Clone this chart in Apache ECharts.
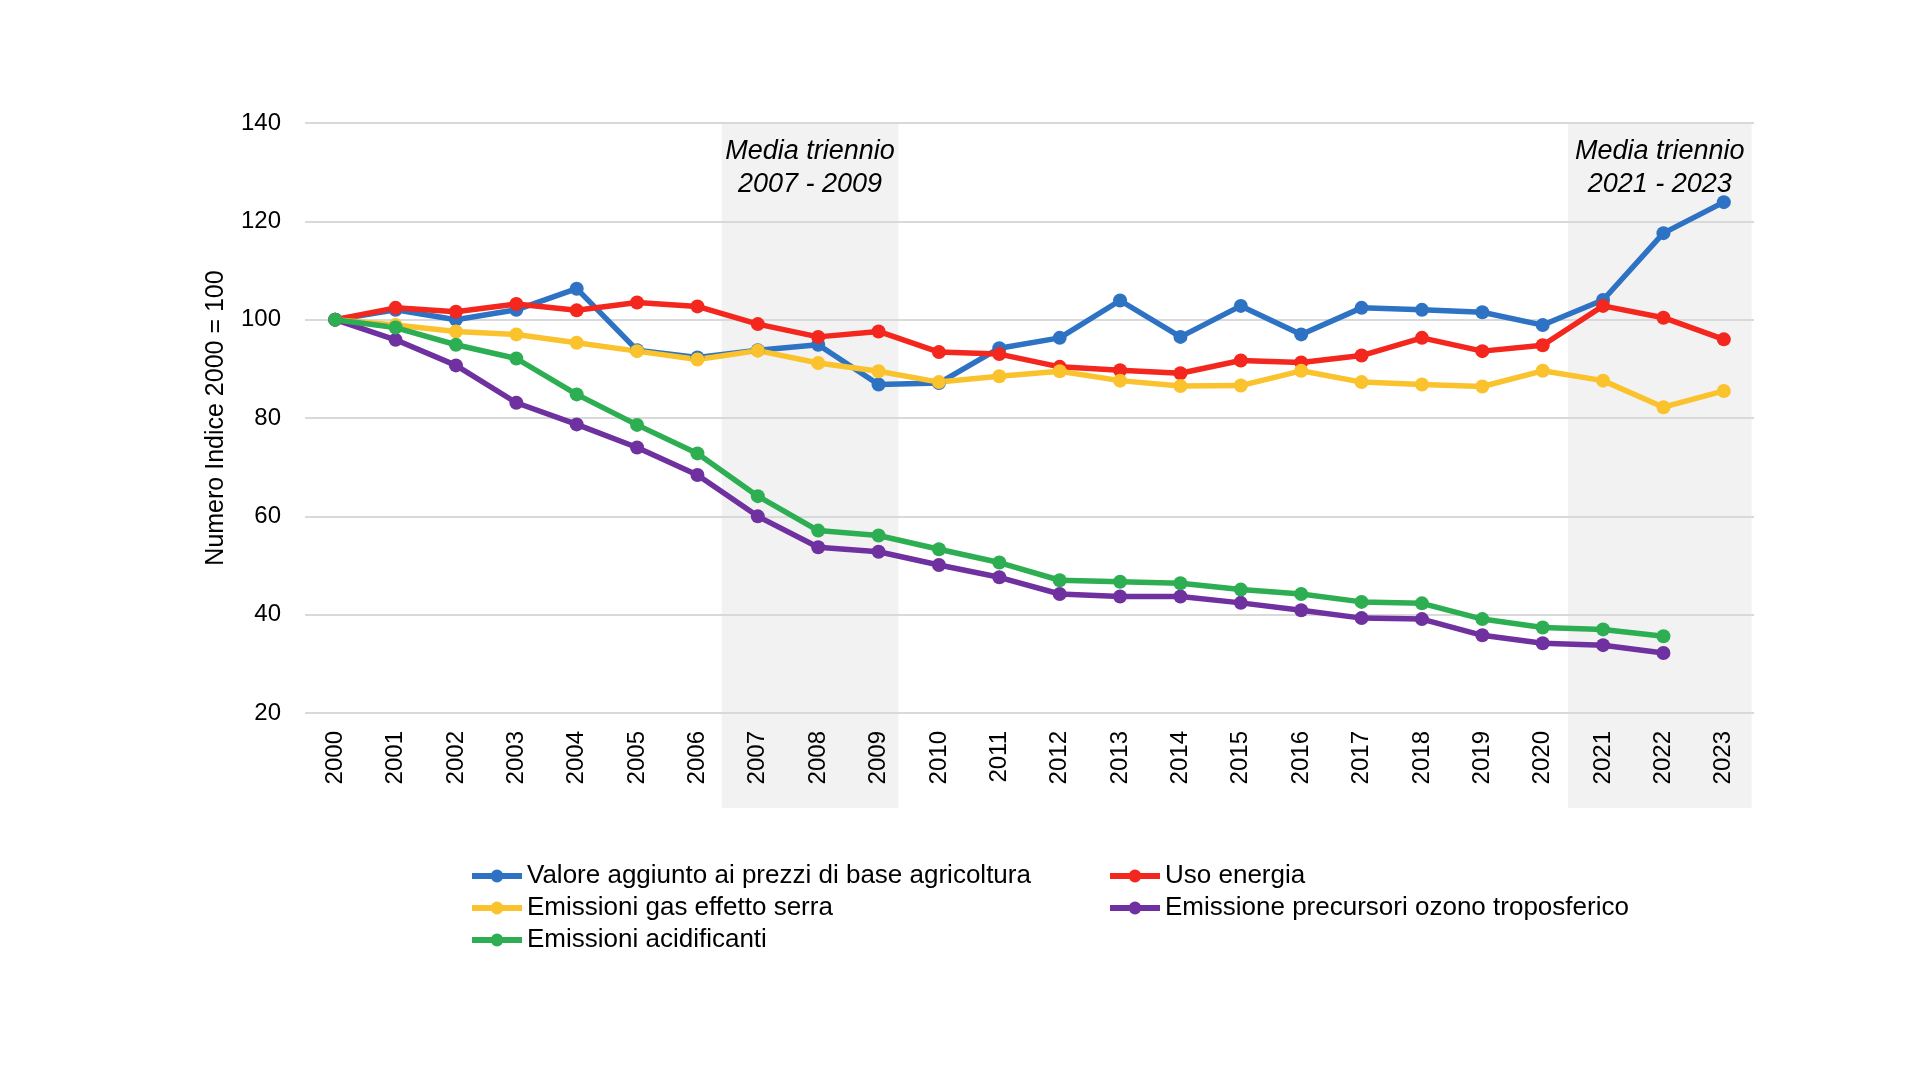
<!DOCTYPE html>
<html>
<head>
<meta charset="utf-8">
<script src="https://cdn.jsdelivr.net/npm/echarts@6/dist/echarts.min.js"></script>
<style>
  html, body { margin: 0; padding: 0; background: #fff; }
  #chart { width: 1920px; height: 1080px; }
</style>
</head>
<body>
<div id="chart"></div>
<script>
var anni = ['2000','2001','2002','2003','2004','2005','2006','2007','2008','2009','2010','2011',
            '2012','2013','2014','2015','2016','2017','2018','2019','2020','2021','2022','2023'];

var valoreAggiunto = [100, 102, 100, 102, 106.3, 93.8, 92.3, 93.8, 94.9, 86.8, 87.1, 94.2,
                      96.3, 103.9, 96.5, 102.8, 97, 102.4, 102, 101.5, 98.9, 104, 117.6, 123.9];
var usoEnergia = [100, 102.4, 101.6, 103.2, 101.9, 103.5, 102.7, 99.1, 96.5, 97.6, 93.4, 93,
                  90.4, 89.7, 89.1, 91.7, 91.3, 92.7, 96.3, 93.6, 94.8, 102.8, 100.4, 96];
var gasSerra = [100, 98.9, 97.6, 97, 95.3, 93.6, 91.9, 93.7, 91.2, 89.5, 87.3, 88.5,
                89.5, 87.6, 86.5, 86.6, 89.6, 87.3, 86.8, 86.4, 89.6, 87.6, 82.2, 85.5];
var precursoriOzono = [100, 95.9, 90.7, 83.1, 78.7, 74, 68.4, 60, 53.7, 52.8, 50.1, 47.6,
                       44.2, 43.7, 43.7, 42.4, 40.9, 39.3, 39.1, 35.8, 34.2, 33.8, 32.2, null];
var acidificanti = [100, 98.4, 94.9, 92.1, 84.8, 78.6, 72.8, 64.1, 57.1, 56.1, 53.3, 50.6,
                    47, 46.7, 46.4, 45.1, 44.2, 42.6, 42.3, 39.1, 37.4, 37, 35.6, null];

// bande "media triennio" sull'asse degli indici di categoria
var trienni = [
    { da: 6.4, a: 9.33, testo: 'Media triennio\n2007 - 2009' },
    { da: 20.42, a: 23.46, testo: 'Media triennio\n2021 - 2023' }
];

var nomi = ['Valore aggiunto ai prezzi di base agricoltura', 'Uso energia',
            'Emissioni gas effetto serra', 'Emissione precursori ozono troposferico',
            'Emissioni acidificanti'];
var colori = ['#2E72C4', '#F3271E', '#FAC22C', '#7031A0', '#2EAE52'];
var valori = [valoreAggiunto, usoEnergia, gasSerra, precursoriOzono, acidificanti];

var chart = echarts.init(document.getElementById('chart'));

var series = [{
    type: 'line',
    xAxisIndex: 1,
    yAxisIndex: 1,
    data: [],
    z: 0,
    silent: true,
    markArea: {
        silent: true,
        z: 0,
        itemStyle: { color: '#F2F2F2' },
        label: {
            show: true,
            position: 'insideTop',
            distance: 12,
            color: '#000',
            fontFamily: 'Liberation Sans, Arial, sans-serif',
            fontStyle: 'italic',
            fontSize: 27,
            lineHeight: 33
        },
        data: trienni.map(function (t) {
            return [{ xAxis: t.da, name: t.testo }, { xAxis: t.a }];
        })
    }
}];

for (var i = 0; i < nomi.length; i++) {
    series.push({
        name: nomi[i],
        type: 'line',
        data: valori[i],
        color: colori[i],
        z: 3,
        symbol: 'circle',
        symbolSize: 14,
        lineStyle: { width: 5.5 },
        connectNulls: false
    });
}

var legendText = {
    fontFamily: 'Liberation Sans Narrow, Arial Narrow, sans-serif',
    fontSize: 26,
    color: '#000',
    lineHeight: 26
};

function legenda(left, items) {
    return {
        orient: 'vertical',
        left: left,
        top: 858,
        itemWidth: 50,
        itemHeight: 16,
        itemGap: 6,
        itemStyle: { borderWidth: 0 },
        lineStyle: { width: 6 },
        textStyle: legendText,
        data: items
    };
}

var option = {
    animation: false,
    backgroundColor: '#fff',
    grid: [
        { left: 305, right: 166, top: 123, height: 590 },
        { left: 305, right: 166, top: 123, height: 685 }
    ],
    xAxis: [{
        type: 'category',
        data: anni,
        gridIndex: 0,
        z: 1,
        boundaryGap: true,
        axisLine: { show: false },
        axisTick: { show: false },
        axisLabel: {
            rotate: 90,
            interval: 0,
            margin: 18,
            color: '#000',
            fontSize: 24,
            fontFamily: 'Liberation Sans, Arial, sans-serif'
        }
    }, {
        type: 'value',
        gridIndex: 1,
        min: -0.5,
        max: 23.5,
        show: false
    }],
    yAxis: [{
        type: 'value',
        gridIndex: 0,
        z: 1,
        min: 20,
        max: 140,
        interval: 20,
        name: 'Numero Indice 2000 = 100',
        nameLocation: 'middle',
        nameGap: 76,
        nameTextStyle: {
            color: '#000',
            fontSize: 25,
            fontFamily: 'Liberation Sans, Arial, sans-serif'
        },
        axisLine: { show: false },
        axisTick: { show: false },
        axisLabel: {
            margin: 24,
            color: '#000',
            fontSize: 24,
            fontFamily: 'Liberation Sans, Arial, sans-serif'
        },
        splitLine: { lineStyle: { color: '#D9D9D9', width: 2 } }
    }, {
        type: 'value',
        gridIndex: 1,
        min: 0,
        max: 1,
        show: false
    }],
    legend: [
        legenda(464, [nomi[0], nomi[2], nomi[4]]),
        legenda(1102, [nomi[1], nomi[3]])
    ],
    series: series
};

chart.setOption(option);
</script>
</body>
</html>
